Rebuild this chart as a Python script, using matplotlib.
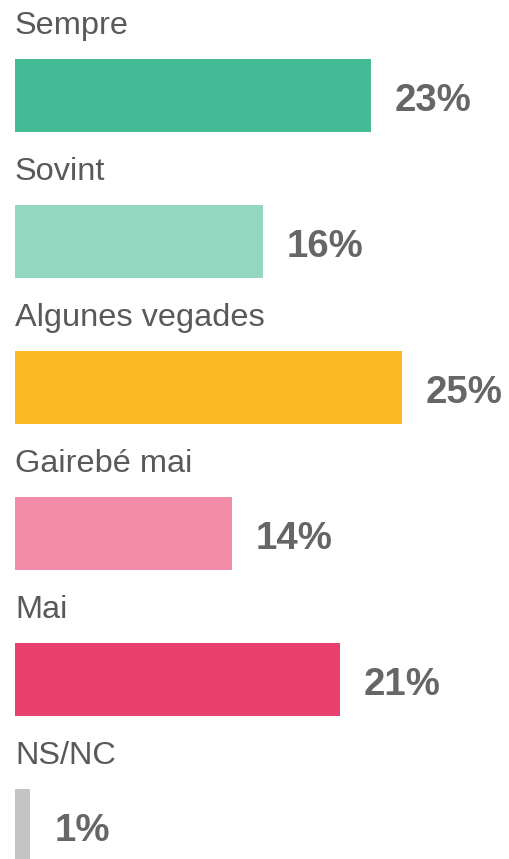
import matplotlib
matplotlib.use("Agg")
import matplotlib.pyplot as plt

categories = ["Sempre", "Sovint", "Algunes vegades", "Gairebé mai", "Mai", "NS/NC"]
values = [23, 16, 25, 14, 21, 1]
colors = ["#45BB95", "#93D7C0", "#FBBA22", "#F28BA8", "#E8416E", "#C4C4C4"]

W, H = 509, 859
fig = plt.figure(figsize=(W / 100, H / 100), dpi=100)
ax = fig.add_axes([0, 0, 1, 1])

px_per_pct = 15.48
row_px = 146.0
x0_px, y0_px = 15.0, 95.5
ax.set_xlim(-x0_px / px_per_pct, (W - x0_px) / px_per_pct)
ax.set_ylim((H - y0_px) / row_px, -y0_px / row_px)
ax.axis("off")

ys = list(range(len(categories)))
ax.barh(ys, values, height=73 / row_px, left=0, color=colors)

for y, cat, v in zip(ys, categories, values):
    ax.text(0, y - 0.421, cat, ha="left", va="baseline", fontsize=23.4,
            color="#595959", family="Liberation Sans")
    ax.text(v + 1.55, y + 0.106, f"{v}%", ha="left", va="baseline", fontsize=27.6,
            fontweight="bold", color="#666666", family="Liberation Sans")

fig.savefig("out.png", dpi=100)
